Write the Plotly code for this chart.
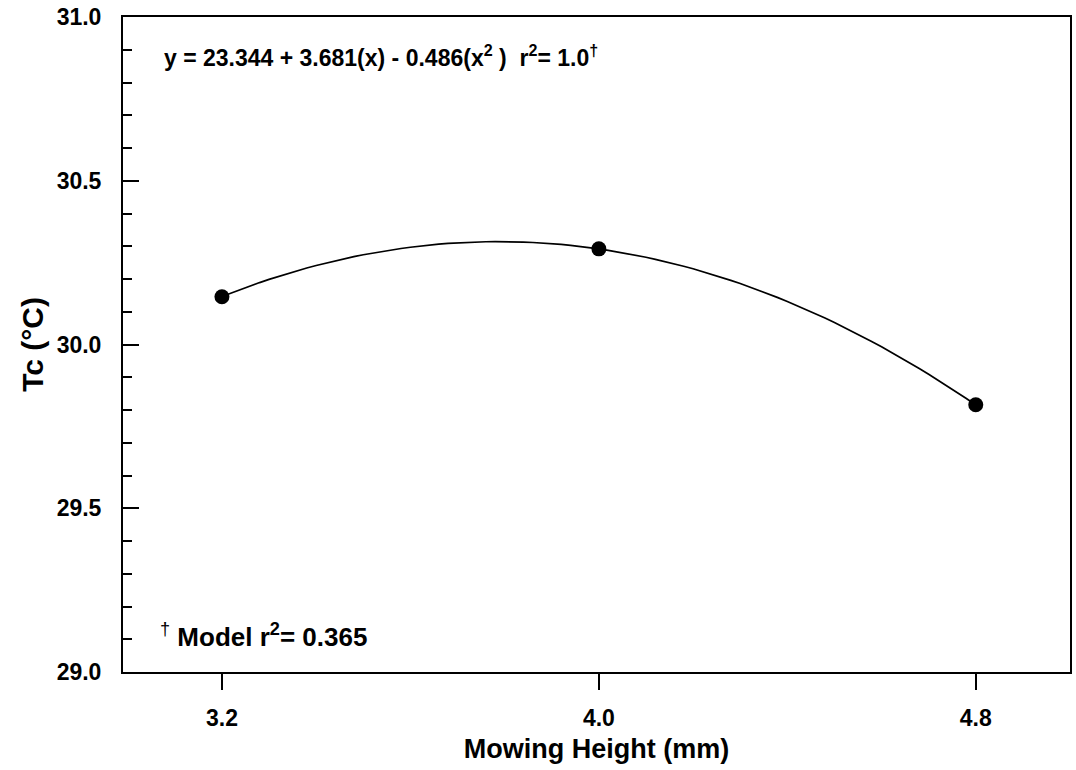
import numpy as np
import plotly.graph_objects as go

# Data
mowing_height = [3.2, 4.0, 4.8]
tc_values = [30.146, 30.292, 29.816]

# Fitted quadratic shown on the chart: y = b0 + b1*x + b2*x^2
fit_coefs = [23.344, 3.681, -0.486]

x_ticks = [3.2, 4.0, 4.8]
x_tick_labels = ["3.2", "4.0", "4.8"]
y_ticks = [29.0, 29.5, 30.0, 30.5, 31.0]
y_tick_labels = ["29.0", "29.5", "30.0", "30.5", "31.0"]

FONT = "Liberation Sans, Arial, sans-serif"

fit_x = np.linspace(min(mowing_height), max(mowing_height), 81)
fit_y = fit_coefs[0] + fit_coefs[1] * fit_x + fit_coefs[2] * fit_x ** 2

fig = go.Figure()
fig.add_trace(go.Scatter(x=fit_x, y=fit_y, mode="lines",
                         line=dict(color="black", width=1.7),
                         showlegend=False, hoverinfo="skip"))
fig.add_trace(go.Scatter(x=mowing_height, y=tc_values, mode="markers",
                         marker=dict(color="black", size=15),
                         showlegend=False))

fig.update_layout(
    width=1076, height=770,
    margin=dict(l=123, r=4, t=17, b=98),
    paper_bgcolor="white", plot_bgcolor="white",
    font=dict(family=FONT, color="black"),
    xaxis=dict(
        range=[2.99, 5.0],
        tickvals=x_ticks, ticktext=["<b>%s</b>" % t for t in x_tick_labels],
        ticks="outside", ticklen=16, tickwidth=2, tickcolor="black",
        showline=True, linewidth=2, linecolor="black", mirror=True,
        showgrid=False, zeroline=False,
        ticklabelstandoff=8,
        tickfont=dict(family=FONT, size=23, color="black", weight=700),
        title=dict(text="<b>Mowing Height (mm)</b>",
                   font=dict(family=FONT, size=27, color="black"), standoff=10),
    ),
    yaxis=dict(
        range=[29.0, 31.0],
        tickvals=y_ticks, ticktext=["<b>%s</b>" % t for t in y_tick_labels],
        ticks="inside", ticklen=16, tickwidth=2, tickcolor="black",
        minor=dict(dtick=0.1, ticks="inside", ticklen=9, tickwidth=1.5, tickcolor="black"),
        showline=True, linewidth=2, linecolor="black", mirror=True,
        showgrid=False, zeroline=False,
        ticklabelstandoff=15,
        tickfont=dict(family=FONT, size=23, color="black", weight=700),
        title=dict(text="<b>Tc (°C)</b>",
                   font=dict(family=FONT, size=30, color="black"), standoff=4),
    ),
    annotations=[
        dict(text="<b>y = 23.344 + 3.681(x) - 0.486(x<sup>2</sup> )  r<sup>2</sup>= 1.0<sup>†</sup></b>",
             xref="paper", yref="paper", x=0.041, y=0.941,
             xanchor="left", yanchor="middle", showarrow=False,
             font=dict(family=FONT, size=23, color="black")),
        dict(text="<sup>†</sup> <b>Model r<sup>2</sup>= 0.365</b>",
             xref="paper", yref="paper", x=0.037, y=0.055,
             xanchor="left", yanchor="middle", showarrow=False,
             font=dict(family=FONT, size=26, color="black")),
    ],
)

fig.write_html("out.html")
